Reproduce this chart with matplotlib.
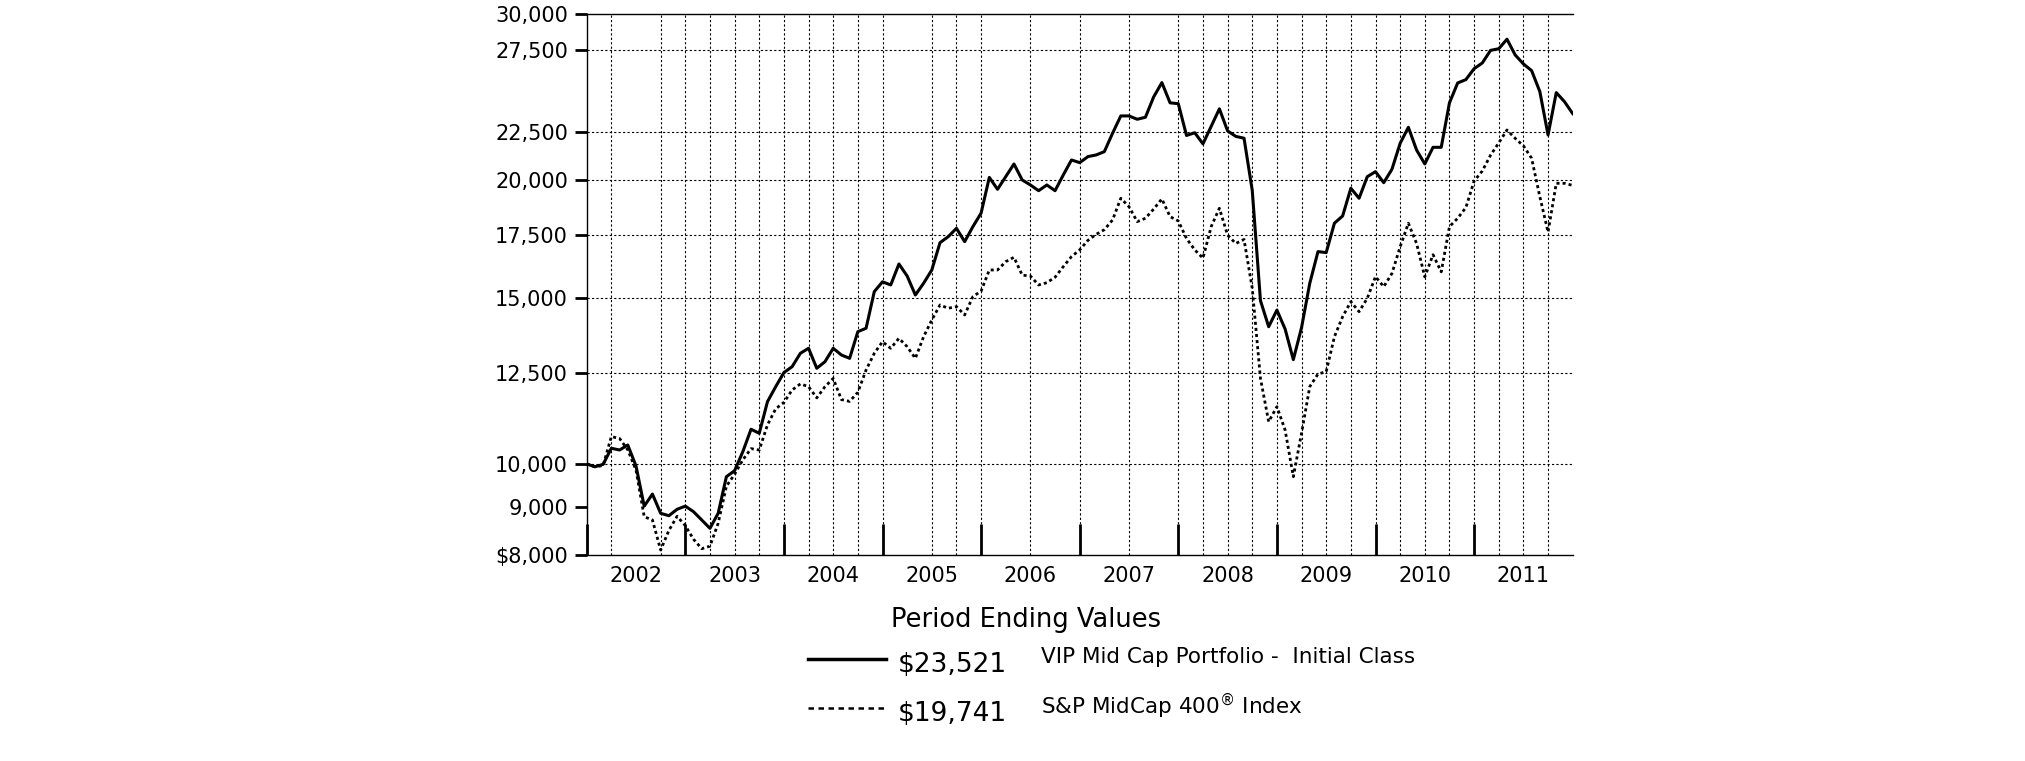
import matplotlib.pyplot as plt
from matplotlib.lines import Line2D
from matplotlib.ticker import NullLocator
import numpy as np

# month-end values, Dec 2001 .. Dec 2011 (growth of $10,000)
fund = [10000, 9930, 9990, 10390, 10345, 10473, 9950, 9020, 9290, 8864, 8812, 8951,
        9020, 8899, 8720, 8545, 8864, 9693, 9836, 10303, 10883, 10777, 11641, 12075,
        12500, 12680, 13100, 13262, 12630, 12835, 13262, 13047, 12941, 13812, 13927, 15230,
        15600, 15480, 16294, 15823, 15105, 15544, 16057, 17165, 17417, 17777, 17207, 17849,
        18450, 20131, 19553, 20168, 20800, 20005, 19762, 19487, 19762, 19487, 20249, 21004,
        20869, 21177, 21264, 21437, 22422, 23390, 23390, 23200, 23315, 24500, 25372, 24150,
        24100, 22300, 22450, 21850, 22800, 23800, 22550, 22250, 22150, 19500, 14900, 13980,
        14560, 13900, 12900, 13950, 15544, 16794, 16753, 18000, 18321, 19603, 19130, 20166,
        20414, 19872, 20532, 21878, 22751, 21522, 20802, 21664, 21664, 24150, 25350, 25560,
        26250, 26620, 27450, 27560, 28210, 27145, 26560, 26126, 24822, 22330, 24760, 24220,
        23521]
index = [10000, 9932, 9960, 10690, 10640, 10350, 9850, 8791, 8720, 8104, 8500, 8800,
         8600, 8320, 8130, 8180, 8650, 9470, 9750, 10100, 10380, 10345, 11000, 11440,
         11620, 11979, 12157, 12077, 11750, 12077, 12321, 11701, 11650, 11911, 12578, 13100,
         13476, 13262, 13589, 13315, 12941, 13642, 14210, 14742, 14624, 14682, 14388, 15045,
         15250, 16057, 16057, 16386, 16563, 15856, 15823, 15480, 15567, 15774, 16188, 16589,
         16866, 17261, 17515, 17717, 18142, 19130, 18740, 18068, 18219, 18630, 19100, 18290,
         18100, 17340, 16866, 16528, 17847, 18669, 17481, 17130, 17300, 15355, 12321, 11085,
         11500, 10863, 9693, 10777, 12077, 12455, 12526, 13642, 14326, 14862, 14503, 14986,
         15800, 15414, 15922, 16992, 18000, 17130, 15792, 16667, 15985, 17847, 18219, 18700,
         19950, 20450, 21250, 21900, 22601, 22145, 21745, 21092, 19204, 17613, 19841, 19841,
         19741]

years = ["2002", "2003", "2004", "2005", "2006", "2007", "2008", "2009", "2010", "2011"]
ytick_vals = [8000, 9000, 10000, 12500, 15000, 17500, 20000, 22500, 27500, 30000]
ytick_labels = ["$8,000", "9,000", "10,000", "12,500", "15,000", "17,500",
                "20,000", "22,500", "27,500", "30,000"]
hgrid_vals = [10000, 12500, 15000, 17500, 20000, 22500, 27500]

series_names = ["VIP Mid Cap Portfolio -  Initial Class", r"S&P MidCap 400$^{\circledR}$ Index"]
ending_values = ["$23,521", "$19,741"]

W, H = 2025, 761
fig = plt.figure(figsize=(W / 100, H / 100), dpi=100)
ax = fig.add_axes([586.7 / W, 1 - 555.3 / H, 986 / W, 541.3 / H])

months = np.arange(len(fund))
ax.plot(months, fund, color="black", lw=2.2, zorder=3)
ax.plot(months, index, color="black", lw=2.0, linestyle=(0, (1.1, 1.1)), zorder=3)

ax.set_yscale("log")
ax.set_ylim(8000, 30000)
ax.set_xlim(0, 120)

# grid (quarterly vertical lines, some missing as in the original)
missing_q = (2, 13, 17, 19, 21, 23)
for q in range(1, 40):
    if q in missing_q:
        continue
    ax.axvline(q * 3, color="black", lw=0.8, linestyle=(0, (2, 2)), zorder=1)
for v in hgrid_vals:
    ax.axhline(v, color="black", lw=0.8, linestyle=(0, (2, 2)), zorder=1)

ax.yaxis.set_minor_locator(NullLocator())
ax.set_yticks(ytick_vals)
ax.set_yticklabels(ytick_labels)
ax.tick_params(axis="y", direction="out", length=8.5, width=2, pad=5, labelsize=15)

ax.set_xticks(range(0, 109, 12))
ax.set_xticklabels([])
ax.tick_params(axis="x", which="major", direction="in", length=22, width=2)
ax.set_xticks([6 + 12 * k for k in range(len(years))], minor=True)
ax.set_xticklabels(years, minor=True)
ax.tick_params(axis="x", which="minor", length=0, pad=8, labelsize=15)

ax.spines["right"].set_visible(False)
for s in ("top", "left", "bottom"):
    ax.spines[s].set_linewidth(1.0)

# legend block
fig.text(891 / W, 1 - 620 / H, "Period Ending Values", fontsize=18.5, va="center", ha="left")
rows_y = [659, 708]
styles = [dict(lw=2.5, linestyle="-"), dict(lw=1.8, linestyle=(0, (2.2, 1.8)))]
for i in range(2):
    yy = 1 - rows_y[i] / H
    fig.add_artist(Line2D([808 / W, 886 / W], [yy, yy], color="black", **styles[i]))
    fig.text(898 / W, 1 - (rows_y[i] + 6) / H, ending_values[i], fontsize=19, va="center", ha="left")
    fig.text(1041 / W, 1 - (rows_y[i] - 2) / H, series_names[i], fontsize=15.5, va="center", ha="left")

fig.savefig("out.png", dpi=100)
